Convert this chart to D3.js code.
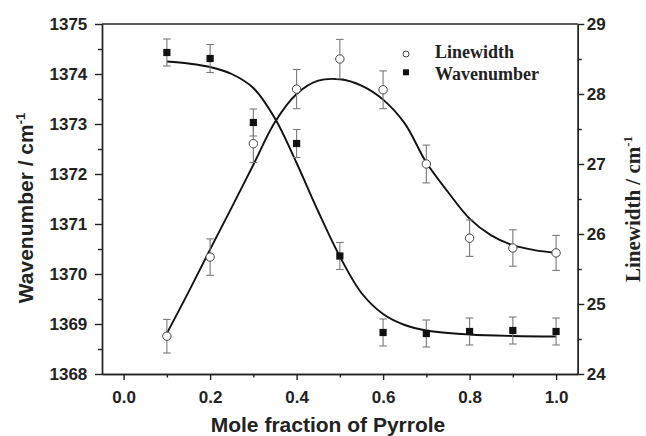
<!DOCTYPE html>
<html>
<head>
<meta charset="utf-8">
<script src="https://d3js.org/d3.v7.min.js"></script>
<style>
	body { margin: 0; background: #fff; }
	.tick text { font-family: "Liberation Sans", Arial, sans-serif; font-weight: bold; font-size: 17px; fill: #222; }
	.axis path, .axis line { stroke: #222; stroke-width: 1.4; }
	.minor text { display: none; }
</style>
</head>
<body>
<script>
//mole fraction of pyrrole for every measured point
var moleFraction = [0.1, 0.2, 0.3, 0.4, 0.5, 0.6, 0.7, 0.8, 0.9, 1.0];
//wavenumber (left axis) and its error
var wavenumber = [1374.43, 1374.31, 1373.03, 1372.61, 1370.36, 1368.83, 1368.81, 1368.85, 1368.87, 1368.85];
var wavenumberErr = [0.27, 0.28, 0.27, 0.28, 0.27, 0.27, 0.27, 0.27, 0.27, 0.27];
//linewidth (right axis) and its error
var linewidth = [24.54, 25.67, 27.29, 28.07, 28.50, 28.06, 27.00, 25.94, 25.80, 25.73];
var linewidthErr = [0.24, 0.26, 0.27, 0.28, 0.28, 0.27, 0.27, 0.26, 0.26, 0.25];

//fitted curves
var wnFitX = [0.1, 0.15, 0.2, 0.25, 0.3, 0.35, 0.4, 0.45, 0.5, 0.55, 0.6, 0.65, 0.7, 0.8, 0.9, 1.0];
var wnFitY = [1374.25, 1374.21, 1374.14, 1374.0, 1373.72, 1373.11, 1372.22, 1371.25, 1370.35, 1369.62, 1369.2, 1368.98, 1368.87, 1368.79, 1368.76, 1368.75];
var lwFitX = [0.1, 0.15, 0.2, 0.25, 0.3, 0.35, 0.4, 0.45, 0.5, 0.55, 0.6, 0.65, 0.7, 0.75, 0.8, 0.85, 0.9, 0.95, 1.0];
var lwFitY = [24.58, 25.17, 25.78, 26.38, 26.99, 27.6, 28.0, 28.19, 28.21, 28.12, 27.92, 27.58, 27.02, 26.6, 26.22, 25.98, 25.84, 25.77, 25.73];

//tick values
var xTicks = [0.0, 0.2, 0.4, 0.6, 0.8, 1.0];
var xMinor = [0.1, 0.3, 0.5, 0.7, 0.9];
var leftTicks = [1368, 1369, 1370, 1371, 1372, 1373, 1374, 1375];
var rightTicks = [24, 25, 26, 27, 28, 29];

window.onload = function(){
	var w = 646, h = 436;
	var left = 102, right = 577.7, top = 24, bottom = 374;

	var svg = d3.select("body")
		.append("svg")
		.attr("width", w)
		.attr("height", h)
		.attr("class", "container");

	var x = d3.scaleLinear()
		.domain([-0.05, 1.05])
		.range([left, right]);

	var yL = d3.scaleLinear()
		.domain([1368, 1375])
		.range([bottom, top]);

	var yR = d3.scaleLinear()
		.domain([24, 29])
		.range([bottom, top]);

	//minor ticks first, major on top
	svg.append("g")
		.attr("class", "axis minor")
		.attr("transform", "translate(0," + bottom + ")")
		.call(d3.axisBottom(x).tickValues(xMinor).tickSize(3.5).tickSizeOuter(0));
	svg.append("g")
		.attr("class", "axis minor")
		.attr("transform", "translate(" + left + ",0)")
		.call(d3.axisLeft(yL).tickValues(d3.range(1368.5, 1375, 1)).tickSize(4).tickSizeOuter(0));
	svg.append("g")
		.attr("class", "axis minor")
		.attr("transform", "translate(" + right + ",0)")
		.call(d3.axisRight(yR).tickValues(d3.range(24.5, 29, 1)).tickSize(4).tickSizeOuter(0));

	svg.append("g")
		.attr("class", "axis")
		.attr("transform", "translate(0," + bottom + ")")
		.call(d3.axisBottom(x).tickValues(xTicks).tickSize(6).tickSizeOuter(0).tickPadding(11)
			.tickFormat(d3.format(".1f")));

	svg.append("g")
		.attr("class", "axis")
		.attr("transform", "translate(" + left + ",0)")
		.call(d3.axisLeft(yL).tickValues(leftTicks).tickSize(7).tickSizeOuter(0).tickPadding(7.7)
			.tickFormat(d3.format("d")));

	svg.append("g")
		.attr("class", "axis")
		.attr("transform", "translate(" + right + ",0)")
		.call(d3.axisRight(yR).tickValues(rightTicks).tickSize(6.5).tickSizeOuter(0).tickPadding(2.5)
			.tickFormat(d3.format("d")));

	//top frame line
	svg.append("line")
		.attr("x1", left)
		.attr("x2", right)
		.attr("y1", top)
		.attr("y2", top)
		.style("stroke", "#222")
		.style("stroke-width", 1.4);

	//fitted curves
	var wnLine = d3.line()
		.x(function(d){ return x(d[0]); })
		.y(function(d){ return yL(d[1]); })
		.curve(d3.curveCatmullRom.alpha(0.5));
	var lwLine = d3.line()
		.x(function(d){ return x(d[0]); })
		.y(function(d){ return yR(d[1]); })
		.curve(d3.curveCatmullRom.alpha(0.5));

	svg.append("path")
		.datum(d3.zip(lwFitX, lwFitY))
		.attr("class", "fit")
		.attr("d", lwLine)
		.style("fill", "none")
		.style("stroke", "#111")
		.style("stroke-width", 1.9);

	svg.append("path")
		.datum(d3.zip(wnFitX, wnFitY))
		.attr("class", "fit")
		.attr("d", wnLine)
		.style("fill", "none")
		.style("stroke", "#111")
		.style("stroke-width", 1.9);

	//error bars
	function errorBars(cls, vals, errs, y){
		var g = svg.selectAll("." + cls)
			.data(d3.range(moleFraction.length))
			.enter()
			.append("g")
			.attr("class", cls)
			.style("stroke", "#7a7a7a")
			.style("stroke-width", 1.1);
		g.append("line")
			.attr("x1", function(i){ return x(moleFraction[i]); })
			.attr("x2", function(i){ return x(moleFraction[i]); })
			.attr("y1", function(i){ return y(vals[i] + errs[i]); })
			.attr("y2", function(i){ return y(vals[i] - errs[i]); });
		[1, -1].forEach(function(s){
			g.append("line")
				.attr("x1", function(i){ return x(moleFraction[i]) - 3.8; })
				.attr("x2", function(i){ return x(moleFraction[i]) + 3.8; })
				.attr("y1", function(i){ return y(vals[i] + s * errs[i]); })
				.attr("y2", function(i){ return y(vals[i] + s * errs[i]); });
		});
	}
	errorBars("lwErr", linewidth, linewidthErr, yR);
	errorBars("wnErr", wavenumber, wavenumberErr, yL);

	//linewidth points: open circles
	svg.selectAll(".lwPt")
		.data(d3.range(moleFraction.length))
		.enter()
		.append("circle")
		.attr("class", "lwPt")
		.attr("cx", function(i){ return x(moleFraction[i]); })
		.attr("cy", function(i){ return yR(linewidth[i]); })
		.attr("r", 4.2)
		.style("fill", "#fff")
		.style("stroke", "#444")
		.style("stroke-width", 1);

	//wavenumber points: filled squares
	svg.selectAll(".wnPt")
		.data(d3.range(moleFraction.length))
		.enter()
		.append("rect")
		.attr("class", "wnPt")
		.attr("x", function(i){ return x(moleFraction[i]) - 3.6; })
		.attr("y", function(i){ return yL(wavenumber[i]) - 3.6; })
		.attr("width", 7.2)
		.attr("height", 7.2)
		.style("fill", "#111");

	//legend
	var legend = svg.append("g").attr("class", "legend");
	legend.append("circle")
		.attr("cx", 406)
		.attr("cy", 54)
		.attr("r", 3)
		.style("fill", "#fff")
		.style("stroke", "#444");
	legend.append("rect")
		.attr("x", 403)
		.attr("y", 69.3)
		.attr("width", 6)
		.attr("height", 6)
		.style("fill", "#111");
	legend.selectAll("text")
		.data(["Linewidth", "Wavenumber"])
		.enter()
		.append("text")
		.attr("x", 435)
		.attr("y", function(d, i){ return 58.3 + i * 21.5; })
		.style("font-family", "'Liberation Serif', 'Times New Roman', serif")
		.style("font-weight", "bold")
		.style("font-size", "18px")
		.style("fill", "#222")
		.text(function(d){ return d; });

	//axis titles
	svg.append("text")
		.attr("x", 328)
		.attr("y", 432)
		.attr("text-anchor", "middle")
		.style("font-family", "'Liberation Sans', Arial, sans-serif")
		.style("font-weight", "bold")
		.style("font-size", "21px")
		.style("fill", "#222")
		.text("Mole fraction of Pyrrole");

	var yTitle = svg.append("text")
		.attr("transform", "translate(33,208) rotate(-90)")
		.attr("text-anchor", "middle")
		.style("font-family", "'Liberation Sans', Arial, sans-serif")
		.style("font-weight", "bold")
		.style("font-size", "21px")
		.style("fill", "#222");
	yTitle.append("tspan").text("Wavenumber / cm");
	yTitle.append("tspan")
		.attr("dy", "-0.6em")
		.style("font-size", "13px")
		.text("-1");

	var rTitle = svg.append("text")
		.attr("transform", "translate(640,209) rotate(-90)")
		.attr("text-anchor", "middle")
		.style("font-family", "'Liberation Serif', 'Times New Roman', serif")
		.style("font-weight", "bold")
		.style("font-size", "21px")
		.style("fill", "#222");
	rTitle.append("tspan").text("Linewidth / cm");
	rTitle.append("tspan")
		.attr("dy", "-0.6em")
		.style("font-size", "13px")
		.text("-1");
};
</script>
</body>
</html>
